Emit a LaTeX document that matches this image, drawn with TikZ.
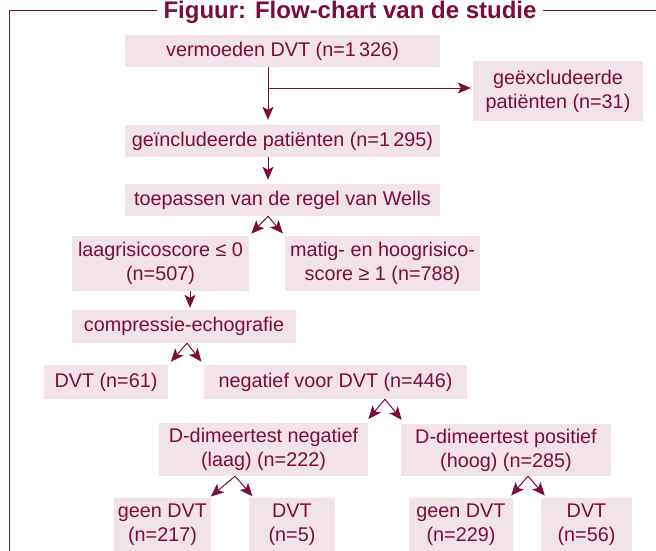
\documentclass[tikz,border=0pt]{standalone}
\usepackage{fontspec}
\setmainfont{Liberation Sans}
\usetikzlibrary{arrows.meta}
\definecolor{wijnrood}{RGB}{122,12,62}
\definecolor{roze}{RGB}{242,227,232}
\tikzset{
    blok/.style={fill=roze, text=wijnrood, inner sep=0pt, align=center,
        font=\fontsize{19.8}{24}\selectfont},
    pijl/.style={draw=wijnrood, line width=1pt,
        -{Stealth[length=13pt,width=11pt,inset=3pt]}},
    kader/.style={draw=wijnrood, line width=1pt},
}

\begin{document}
\begin{tikzpicture}[x=1pt,y=-1pt]
            \useasboundingbox (0,0) rectangle (656,551);
            \draw[kader] (656,11) -| (9,560);
            \node[fill=white, text=wijnrood, inner xsep=7pt, inner ysep=0pt, anchor=base,
                font=\fontsize{24}{28}\selectfont\bfseries] (titel) at (350,18.5)
                {Figuur: Flow-chart van de studie};
            % boxes
            \node[blok, minimum width=315pt, minimum height=32pt] (vermoeden) at (282.5,51) {vermoeden DVT (n=1\,326)};
            \node[blok, minimum width=170pt, minimum height=60pt] (excl) at (558,91) {geëxcludeerde\\patiënten (n=31)};
            \node[blok, minimum width=315pt, minimum height=32pt] (incl) at (282.5,141) {geïncludeerde patiënten (n=1\,295)};
            \node[blok, minimum width=315pt, minimum height=32pt] (wells) at (282.5,200) {toepassen van de regel van Wells};
            \node[blok, minimum width=177pt, minimum height=55pt] (laag) at (160.5,263.5) {laagrisicoscore ≤ 0\\(n=507)};
            \node[blok, minimum width=195pt, minimum height=55pt] (hoog) at (382.5,263.5) {matig- en hoogrisico-\\score ≥ 1 (n=788)};
            \node[blok, minimum width=224pt, minimum height=33pt] (echo) at (184,326.5) {compressie-echografie};
            \node[blok, minimum width=124pt, minimum height=34pt] (dvtpos) at (106,382) {DVT (n=61)};
            \node[blok, minimum width=263pt, minimum height=34pt] (negatief) at (335.5,382) {negatief voor DVT (n=446)};
            \node[blok, minimum width=209pt, minimum height=53pt] (ddneg) at (263.5,449.5) {D-dimeertest negatief\\(laag) (n=222)};
            \node[blok, minimum width=210pt, minimum height=52pt] (ddpos) at (506,450) {D-dimeertest positief\\(hoog) (n=285)};
            \node[blok, minimum width=97pt, minimum height=54pt] (geenA) at (162.5,525) {geen DVT\\(n=217)};
            \node[blok, minimum width=86pt, minimum height=54pt] (dvtA) at (292,525) {DVT\\(n=5)};
            \node[blok, minimum width=104pt, minimum height=54pt] (geenB) at (461,525) {geen DVT\\(n=229)};
            \node[blok, minimum width=91pt, minimum height=54pt] (dvtB) at (586.5,525) {DVT\\(n=56)};
            % arrows
            \coordinate (splits) at (268,88);
            \draw[pijl, shorten >=5pt] (vermoeden.south -| splits) -- (incl.north -| splits);
            \draw[pijl, shorten >=2pt] (splits) -- (excl.west |- splits);
            \draw[pijl, shorten >=4pt] (incl.south -| splits) -- (wells.north -| splits);
            \coordinate (vw) at ([xshift=-14.5pt]wells.south);
            \draw[pijl, shorten >=3pt] (vw) -- (laag.north east);
            \draw[pijl, shorten >=3pt] (vw) -- (hoog.north west);
            \coordinate (vl) at ([xshift=29.5pt]laag.south);
            \draw[pijl, shorten >=2pt] (vl) -- (vl |- echo.north);
            \coordinate (ve) at ([xshift=3pt]echo.south);
            \draw[pijl, shorten >=4pt] (ve) -- (dvtpos.north east);
            \draw[pijl, shorten >=4pt] (ve) -- (negatief.north west);
            \coordinate (vn) at ([xshift=49.5pt]negatief.south);
            \draw[pijl, shorten >=5pt] (vn) -- ([xshift=-3pt]ddneg.north east);
            \draw[pijl, shorten >=5pt] (vn) -- ([xshift=4pt]ddpos.north west);
            \coordinate (vd1) at ([xshift=-28.5pt]ddneg.south);
            \draw[pijl, shorten >=2pt] (vd1) -- ([xshift=-2pt]geenA.north east);
            \draw[pijl, shorten >=2pt] (vd1) -- ([xshift=5pt]dvtA.north west);
            \coordinate (vd2) at ([xshift=22pt]ddpos.south);
            \draw[pijl, shorten >=3pt] (vd2) -- ([xshift=-4pt]geenB.north east);
            \draw[pijl, shorten >=3pt] (vd2) -- ([xshift=6pt]dvtB.north west);
\end{tikzpicture}
\end{document}
